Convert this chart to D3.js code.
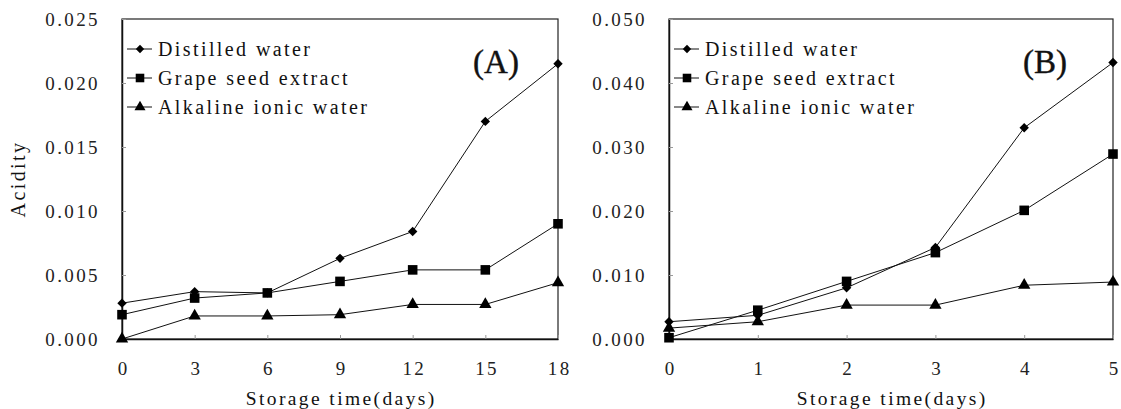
<!DOCTYPE html>
<html>
<head>
<meta charset="utf-8">
<script src="https://cdn.jsdelivr.net/npm/d3@7"></script>
<style>
  html, body { margin: 0; padding: 0; background: #fff; }
  svg { display: block; }
</style>
</head>
<body>
<svg id="chart" width="1121" height="409" font-family="Liberation Serif, Times New Roman, serif"></svg>
<script>
// ---- Data ----
const daysA = [0, 3, 6, 9, 12, 15, 18];
const distilledA = [0.0028, 0.0037, 0.0036, 0.0063, 0.0084, 0.0170, 0.0215];
const grapeA     = [0.0019, 0.0032, 0.0036, 0.0045, 0.0054, 0.0054, 0.0090];
const alkalineA  = [0.0000, 0.0018, 0.0018, 0.0019, 0.0027, 0.0027, 0.0044];
const yTicksA = [0, 0.005, 0.010, 0.015, 0.020, 0.025];

const daysB = [0, 1, 2, 3, 4, 5];
const distilledB = [0.0027, 0.0037, 0.0080, 0.0143, 0.0330, 0.0432];
const grapeB     = [0.0002, 0.0045, 0.0090, 0.0135, 0.0201, 0.0289];
const alkalineB  = [0.0017, 0.0027, 0.0053, 0.0053, 0.0084, 0.0089];
const yTicksB = [0, 0.010, 0.020, 0.030, 0.040, 0.050];

const seriesNames = ["Distilled water", "Grape seed extract", "Alkaline ionic water"];
const panelLabels = ["(A)", "(B)"];
const xTitle = "Storage time(days)";
const yTitle = "Acidity";

// ---- Drawing ----
const FONT = "Liberation Serif, Times New Roman, serif";
const svg = d3.select("#chart");
const LS = 2.4; // letter spacing to mimic wide serif

const markerTypes = [
  { sym: d3.symbolSquare, size: 44, rot: 45 },   // diamond
  { sym: d3.symbolSquare, size: 92, rot: 0 },    // square
  { sym: d3.symbolTriangle, size: 66, rot: 0 }   // triangle
];

function drawPanel(cfg) {
  const g = svg.append("g");
  const x = d3.scaleLinear().domain(cfg.xDomain).range([cfg.left, cfg.right]);
  const y = d3.scaleLinear().domain(cfg.yDomain).range([cfg.bottom, cfg.top]);

  // frame
  g.append("rect")
    .attr("x", cfg.left).attr("y", cfg.top)
    .attr("width", cfg.right - cfg.left).attr("height", cfg.bottom - cfg.top)
    .attr("fill", "none").attr("stroke", "#222").attr("stroke-width", 1.2);

  // y axis
  const ya = g.append("g").attr("transform", `translate(${cfg.left},0)`)
    .call(d3.axisLeft(y).tickValues(cfg.yTicks).tickFormat(d3.format(".3f"))
      .tickSizeInner(-4).tickSizeOuter(0).tickPadding(22));
  ya.attr("font-family", FONT).attr("font-size", 19);
  ya.select(".domain").attr("stroke", "#111").attr("stroke-width", 1.5);
  ya.selectAll(".tick line").attr("stroke", "#999");
  ya.selectAll(".tick text")
    .attr("letter-spacing", LS).attr("fill", "#222");

  // x axis
  const xa = g.append("g").attr("transform", `translate(0,${cfg.bottom})`)
    .call(d3.axisBottom(x).tickValues(cfg.xValues).tickFormat(d3.format("d"))
      .tickSizeInner(-4).tickSizeOuter(0));
  xa.attr("font-family", FONT).attr("font-size", 19);
  xa.select(".domain").attr("stroke", "#111").attr("stroke-width", 1.6);
  xa.selectAll(".tick line").attr("stroke", "#999");
  xa.selectAll(".tick text")
    .attr("letter-spacing", LS).attr("fill", "#222")
    .attr("y", 29).attr("dy", "0.35em").attr("dx", LS / 2);

  // x title
  g.append("text")
    .attr("x", (cfg.left + cfg.right) / 2 + LS / 2).attr("y", 398)
    .attr("text-anchor", "middle").attr("dominant-baseline", "central")
    .attr("font-size", 19.5).attr("letter-spacing", LS).attr("fill", "#111")
    .text(xTitle);

  // series
  const line = d3.line().x(d => x(d[0])).y(d => y(d[1]));
  cfg.series.forEach((vals, i) => {
    const pts = cfg.xValues.map((d, j) => [d, vals[j]]);
    g.append("path").datum(pts)
      .attr("d", line).attr("fill", "none")
      .attr("stroke", "#111").attr("stroke-width", 1);
    const m = markerTypes[i];
    g.selectAll(null).data(pts).enter().append("path")
      .attr("d", d3.symbol().type(m.sym).size(m.size))
      .attr("transform", d => `translate(${x(d[0])},${y(d[1])}) rotate(${m.rot})`)
      .attr("fill", "#000");
  });

  // legend
  const legY = [49, 78, 107];
  seriesNames.forEach((name, i) => {
    const ly = legY[i];
    g.append("line")
      .attr("x1", cfg.left + 5).attr("x2", cfg.left + 30)
      .attr("y1", ly).attr("y2", ly)
      .attr("stroke", "#111").attr("stroke-width", 1);
    const m = markerTypes[i];
    g.append("path")
      .attr("d", d3.symbol().type(m.sym).size(m.size * 0.8))
      .attr("transform", `translate(${cfg.left + 18},${ly}) rotate(${m.rot})`)
      .attr("fill", "#000");
    g.append("text")
      .attr("x", cfg.left + 36).attr("y", ly)
      .attr("dominant-baseline", "central")
      .attr("font-size", 20).attr("letter-spacing", LS).attr("fill", "#111")
      .text(name);
  });

  // panel label
  g.append("text")
    .attr("x", cfg.labelX).attr("y", 62)
    .attr("text-anchor", "middle").attr("dominant-baseline", "central")
    .attr("font-size", 33).attr("fill", "#111")
    .attr("stroke", "#111").attr("stroke-width", 0.4)
    .text(cfg.label);
}

drawPanel({
  left: 122, right: 558, top: 19, bottom: 339,
  xDomain: [0, 18], yDomain: [0, 0.025],
  xValues: daysA, yTicks: yTicksA,
  series: [distilledA, grapeA, alkalineA],
  label: panelLabels[0], labelX: 496
});

drawPanel({
  left: 669, right: 1113, top: 19, bottom: 339,
  xDomain: [0, 5], yDomain: [0, 0.05],
  xValues: daysB, yTicks: yTicksB,
  series: [distilledB, grapeB, alkalineB],
  label: panelLabels[1], labelX: 1045
});

// y title (panel A only)
svg.append("text")
  .attr("transform", "translate(18,179) rotate(-90)")
  .attr("text-anchor", "middle").attr("dominant-baseline", "central")
  .attr("font-size", 20).attr("letter-spacing", LS).attr("fill", "#111")
  .text(yTitle);
</script>
</body>
</html>
